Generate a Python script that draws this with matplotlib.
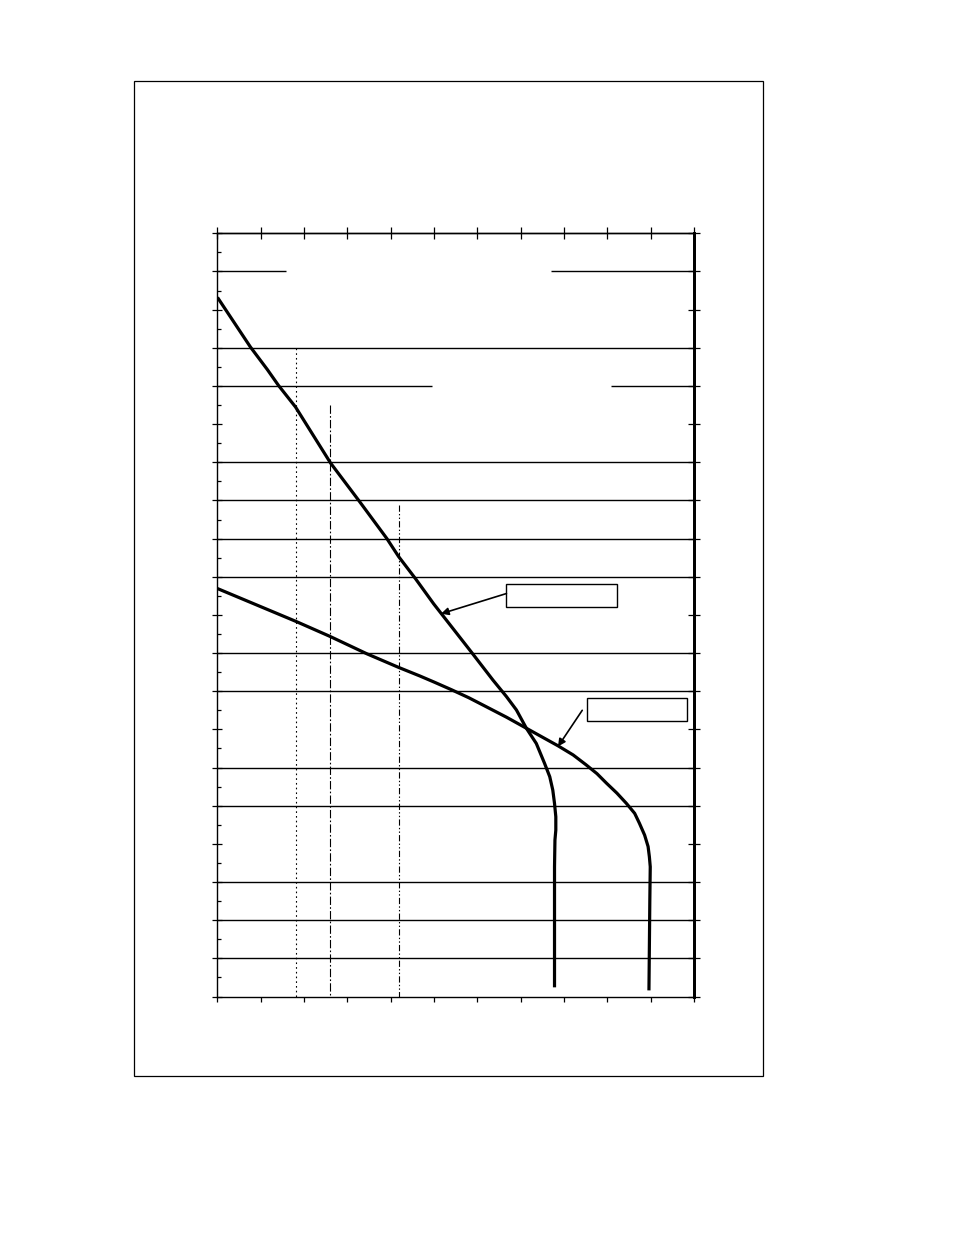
import numpy as np
import matplotlib
matplotlib.use("Agg")
import matplotlib.pyplot as plt
from matplotlib.patches import Rectangle

plt.rcParams['lines.scale_dashes'] = False

# ---- data (x in chart units, depth in chart units; depth grows downward) ----
curve1_x = [0.0, 0.76, 1.15, 1.41, 1.80, 2.61, 3.26, 3.91, 4.18, 4.57, 4.99, 5.83,
            6.36, 6.67, 6.90, 7.13, 7.36, 7.55, 7.67, 7.74, 7.78, 7.81, 7.81, 7.79,
            7.78, 7.78, 7.78]
curve1_d = [1.68, 2.98, 3.57, 3.99, 4.55, 6.02, 7.00, 8.00, 8.47, 9.05, 9.71, 10.93,
            11.71, 12.14, 12.49, 12.97, 13.37, 13.89, 14.24, 14.59, 14.94, 15.29, 15.64, 15.90,
            16.60, 17.47, 19.76]

curve2_x = [0.0, 1.81, 2.59, 3.45, 4.19, 4.67, 5.00, 5.40, 5.80, 6.21, 6.67, 7.13, 7.51, 7.86,
            8.21, 8.51, 8.76, 8.98, 9.22, 9.44, 9.63, 9.74, 9.86, 9.94, 9.97, 9.99, 9.98, 9.96]
curve2_d = [9.31, 10.17, 10.56, 11.02, 11.38, 11.60, 11.76, 11.96, 12.17, 12.41, 12.68, 12.97, 13.21, 13.43,
            13.67, 13.93, 14.16, 14.41, 14.67, 14.94, 15.20, 15.46, 15.77, 16.07, 16.34, 16.60, 17.50, 19.84]

x_ticks = list(range(0, 12))
y_ticks = list(range(0, 21))
y_minor = [v + 0.5 for v in range(0, 20)]

full_grid_d = [3, 6, 7, 8, 9, 11, 12, 14, 15, 17, 18, 19]
partial_grid_d = [1, 1, 4, 4]
partial_grid_x0 = [0.0, 7.70, 0.0, 9.09]
partial_grid_x1 = [1.59, 11.0, 4.96, 11.0]

ref_x = [1.815, 2.59, 4.19]
ref_top = [3.0, 4.5, 7.13]
ref_dashes = [(0, (1.2, 2.2)), (0, (6.0, 1.6, 1.2, 1.6)), (0, (4.5, 1.6, 1.0, 1.6, 1.0, 1.6))]

box1 = (6.67, 9.18, 2.55, 0.61)
arrow1_from = (6.67, 9.44)
arrow1_to = (5.16, 9.97)
box2 = (8.52, 12.17, 2.31, 0.60)
arrow2_from = (8.42, 12.50)
arrow2_to = (7.86, 13.45)

# ---- figure ----
W, H = 954, 1235
fig = plt.figure(figsize=(W / 100, H / 100), dpi=100)
fig.patch.set_facecolor('white')

# outer frame
fig.patches.append(Rectangle((134 / W, 1 - 1076 / H), (763 - 134) / W, (1076 - 81) / H,
                             transform=fig.transFigure, fill=False, lw=0.9, ec='black'))

left, right, top, bottom = 217.5, 694, 233.3, 996.5
ax = fig.add_axes([left / W, 1 - bottom / H, (right - left) / W, (bottom - top) / H])
ax.set_xlim(0, 11)
ax.set_ylim(20, 0)

for s in ['left', 'top', 'bottom']:
    ax.spines[s].set_linewidth(1.0)
ax.spines['right'].set_linewidth(2.0)

ax.set_xticks(x_ticks)
ax.set_xticklabels([])
ax.set_yticks(y_ticks)
ax.set_yticklabels([])
ax.set_yticks(y_minor, minor=True)
ax.tick_params(axis='x', which='major', direction='out', length=3.8, width=0.9,
               bottom=True, top=False, labelbottom=False)
ax.tick_params(axis='y', which='major', direction='inout', length=7, width=0.9,
               left=True, right=False, labelleft=False)
ax.tick_params(axis='y', which='minor', direction='in', length=2.6, width=0.9,
               left=True, right=False)

secx = ax.secondary_xaxis('top')
secx.set_xticks(x_ticks, labels=[''] * len(x_ticks))
secx.tick_params(direction='inout', length=8, width=0.9)
secx.spines['top'].set_linewidth(1.0)

secy = ax.secondary_yaxis('right')
secy.set_yticks(y_ticks, labels=[''] * len(y_ticks))
secy.tick_params(direction='inout', length=8, width=0.9)
secy.spines['right'].set_linewidth(2.0)

# gridlines
ax.hlines(full_grid_d, 0, 11, colors='black', lw=1.0, zorder=1)
for d, a, b in zip(partial_grid_d, partial_grid_x0, partial_grid_x1):
    ax.hlines(d, a, b, colors='black', lw=1.0, zorder=1)

# reference vertical lines
for x, t, ds in zip(ref_x, ref_top, ref_dashes):
    ax.plot([x, x], [t, 20], color='black', lw=0.8, linestyle=ds, zorder=1)

# curves
ax.plot(curve1_x, curve1_d, color='black', lw=2.3, solid_capstyle='butt',
        solid_joinstyle='round', zorder=3)
ax.plot(curve2_x, curve2_d, color='black', lw=2.3, solid_capstyle='butt',
        solid_joinstyle='round', zorder=3)

# annotation boxes and arrows
for bx in (box1, box2):
    ax.add_patch(Rectangle((bx[0], bx[1]), bx[2], bx[3], fill=True, fc='white',
                           ec='black', lw=1.0, zorder=4))
for a, b in ((arrow1_from, arrow1_to), (arrow2_from, arrow2_to)):
    ax.annotate('', xy=b, xytext=a,
                arrowprops=dict(arrowstyle='-|>', lw=1.2, color='black',
                                mutation_scale=11, shrinkA=0, shrinkB=0), zorder=4)

fig.savefig('out.png', dpi=100, facecolor='white')
